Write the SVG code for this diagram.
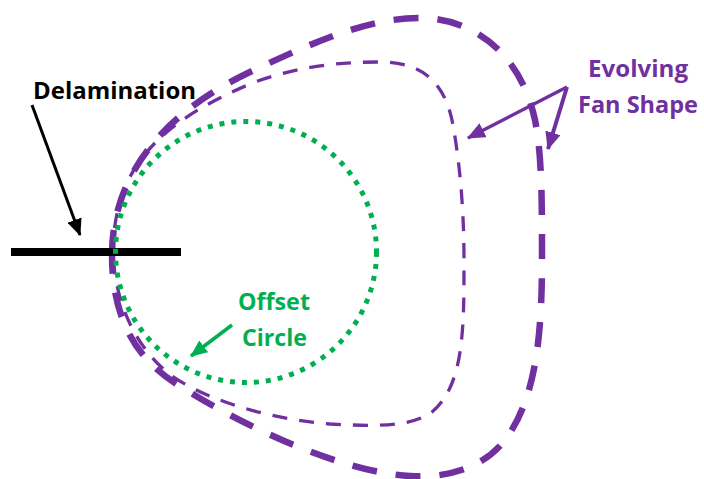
<svg xmlns="http://www.w3.org/2000/svg" width="704" height="479" viewBox="0 0 704 479">
<style>
.lbl{font-family:"Open Sans",Lato,"Liberation Sans",sans-serif;font-weight:bold;font-size:23.5px}
.fan{fill:none;stroke:#7030A0}
</style>
<defs>
<marker id="ahK" markerUnits="userSpaceOnUse" viewBox="0 0 16 14" refX="15" refY="7" markerWidth="17" markerHeight="15" orient="auto"><path d="M0,0 L16,7 L0,14 z" fill="#000"/></marker>
<marker id="ahG" markerUnits="userSpaceOnUse" viewBox="0 0 16 14" refX="15" refY="7" markerWidth="17" markerHeight="15" orient="auto"><path d="M0,0 L16,7 L0,14 z" fill="#00B050"/></marker>
<marker id="ahP" markerUnits="userSpaceOnUse" viewBox="0 0 16 14" refX="15" refY="7" markerWidth="18" markerHeight="16" orient="auto"><path d="M0,0 L16,7 L0,14 z" fill="#7030A0"/></marker>
</defs>
<rect width="704" height="479" fill="#fff"/>
<g id="outer-fan">
<path class="fan" stroke-width="6.5" stroke-dasharray="25 19" d="M112,255 C112,170 170,110 250,72 C320,39 370,18 420,18 C470,18 520,50 535,120 C542,155 542,200 542,260 C542,340 535,400 505,440 C480,472 440,478 410,476 C340,472 240,425 175,383 C130,354 112,310 112,255 Z"/>
</g>
<g id="inner-fan">
<path class="fan" stroke-width="3.3" stroke-dasharray="15 12" d="M113,255 C113,175 150,125 255,82 C300,66 340,62 380,62 C420,62 445,80 453,125 C460,165 464,210 464,260 C464,330 464,385 432,412 C410,428 370,426 330,424 C280,420 215,405 172,376 C140,352 116,310 113,255 Z"/>
</g>
<g id="delamination-line">
<rect x="11" y="248" width="170" height="8" fill="#000"/>
</g>
<g id="offset-circle">
<circle cx="246" cy="252" r="130.5" fill="none" stroke="#00B050" stroke-width="5" stroke-dasharray="5 7"/>
</g>
<g id="connectors">
<line x1="32" y1="105" x2="80" y2="235" stroke="#000" stroke-width="3" marker-end="url(#ahK)"/>
<line x1="232" y1="325" x2="191" y2="356" stroke="#00B050" stroke-width="3.5" marker-end="url(#ahG)"/>
<line x1="567" y1="87" x2="468" y2="138" stroke="#7030A0" stroke-width="3.5" marker-end="url(#ahP)"/>
<line x1="567" y1="87" x2="548" y2="149" stroke="#7030A0" stroke-width="4" marker-end="url(#ahP)"/>
</g>
<g id="label-delamination">
<text class="lbl" x="33" y="99" fill="#000" textLength="163" lengthAdjust="spacingAndGlyphs">Delamination</text>
</g>
<g id="label-fan">
<text class="lbl" x="588" y="77" fill="#7030A0" textLength="100" lengthAdjust="spacingAndGlyphs">Evolving</text>
<text class="lbl" x="578" y="113" fill="#7030A0" textLength="120" lengthAdjust="spacingAndGlyphs">Fan Shape</text>
</g>
<g id="label-circle">
<text class="lbl" x="238" y="310" fill="#00B050" textLength="72" lengthAdjust="spacingAndGlyphs">Offset</text>
<text class="lbl" x="242" y="346" fill="#00B050" textLength="65" lengthAdjust="spacingAndGlyphs">Circle</text>
</g>
</svg>
